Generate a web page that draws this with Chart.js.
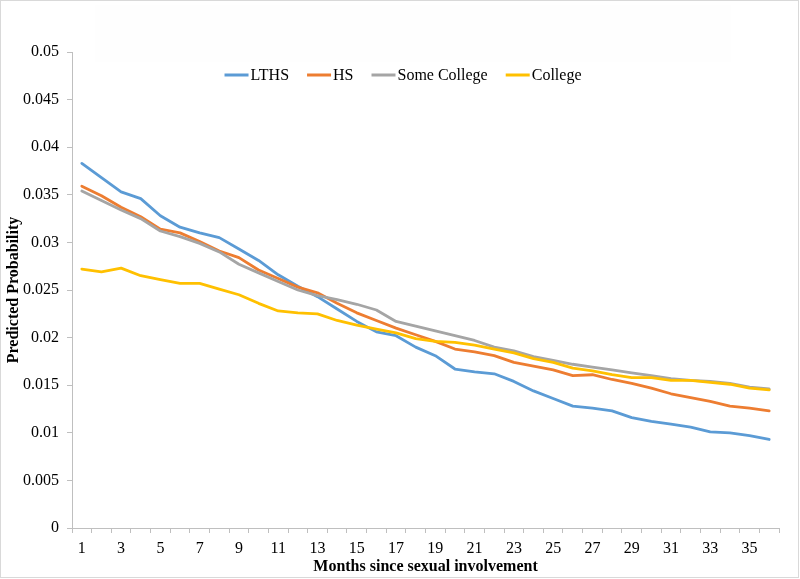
<!DOCTYPE html>
<html>
<head>
<meta charset="utf-8">
<script src="https://cdn.jsdelivr.net/npm/chart.js@4/dist/chart.umd.min.js"></script>
<style>
  html, body { margin: 0; padding: 0; background: #fff; }
  #wrap { width: 800px; height: 579px; }
</style>
</head>
<body>
<div id="wrap"><canvas id="chart" width="800" height="579"></canvas></div>
<script>
const months = ['1','2','3','4','5','6','7','8','9','10','11','12','13','14','15','16','17','18',
  '19','20','21','22','23','24','25','26','27','28','29','30','31','32','33','34','35','36'];

const lths = [0.0383, 0.0368, 0.0353, 0.0346, 0.0328, 0.0316, 0.0310, 0.0305, 0.0293, 0.0281,
  0.0266, 0.0254, 0.0243, 0.0230, 0.0217, 0.0206, 0.0202, 0.0190, 0.0181, 0.0167,
  0.0164, 0.0162, 0.0154, 0.0144, 0.0136, 0.0128, 0.0126, 0.0123, 0.0116, 0.0112,
  0.0109, 0.0106, 0.0101, 0.0100, 0.0097, 0.0093];
const hs = [0.0359, 0.0349, 0.0337, 0.0327, 0.0314, 0.0310, 0.0301, 0.0291, 0.0284, 0.0271,
  0.0262, 0.0253, 0.0247, 0.0236, 0.0226, 0.0218, 0.0210, 0.0203, 0.0196, 0.0188,
  0.0185, 0.0181, 0.0174, 0.0170, 0.0166, 0.0160, 0.0161, 0.0156, 0.0152, 0.0147,
  0.0141, 0.0137, 0.0133, 0.0128, 0.0126, 0.0123];
const someCollege = [0.0354, 0.0344, 0.0334, 0.0325, 0.0312, 0.0306, 0.0299, 0.0290, 0.0277, 0.0268,
  0.0259, 0.0250, 0.0244, 0.0240, 0.0235, 0.0229, 0.0217, 0.0212, 0.0207, 0.0202,
  0.0197, 0.0190, 0.0186, 0.0180, 0.0176, 0.0172, 0.0169, 0.0166, 0.0163, 0.0160,
  0.0157, 0.0155, 0.0154, 0.0152, 0.0148, 0.0146];
const college = [0.0272, 0.0269, 0.0273, 0.0265, 0.0261, 0.0257, 0.0257, 0.0251, 0.0245, 0.0236,
  0.0228, 0.0226, 0.0225, 0.0218, 0.0213, 0.0209, 0.0205, 0.0199, 0.0196, 0.0195,
  0.0192, 0.0188, 0.0184, 0.0178, 0.0174, 0.0168, 0.0165, 0.0161, 0.0158, 0.0158,
  0.0155, 0.0155, 0.0153, 0.0151, 0.0147, 0.0145];

const seriesNames = ['LTHS', 'HS', 'Some College', 'College'];
const seriesColors = ['#5B9BD5', '#ED7D31', '#A5A5A5', '#FFC000'];

const serif = '"Liberation Serif", "Times New Roman", serif';
const axisColor = '#BFBFBF';

// white background, faint legend backdrop, legend in the plot and outer frame
const decor = {
  id: 'decor',
  beforeDraw(chart) {
    const c = chart.ctx;
    c.save();
    c.fillStyle = '#fff';
    c.fillRect(0, 0, chart.width, chart.height);
    c.fillStyle = '#FEFEFE';
    c.fillRect(95, 5, 636, 57);
    c.restore();
  },
  afterDraw(chart) {
    const c = chart.ctx;
    c.save();
    c.font = '16px ' + serif;
    const lineW = 24, gap = 2, spacing = 18;
    const items = chart.data.datasets.map(ds => ({ label: ds.label, color: ds.borderColor, w: c.measureText(ds.label).width }));
    let total = 0;
    items.forEach((it, i) => { total += lineW + gap + it.w + (i < items.length - 1 ? spacing : 0); });
    let x = 403 - total / 2;
    const y = 75;
    c.textBaseline = 'middle';
    items.forEach(it => {
      c.strokeStyle = it.color;
      c.lineWidth = 3;
      c.beginPath();
      c.moveTo(x, y);
      c.lineTo(x + lineW, y);
      c.stroke();
      x += lineW + gap;
      c.fillStyle = '#000';
      c.fillText(it.label, x, y + 1);
      x += it.w + spacing;
    });
    c.strokeStyle = '#D9D9D9';
    c.lineWidth = 1;
    c.strokeRect(0.5, 0.5, chart.width - 2, chart.height - 2);
    c.restore();
  }
};

new Chart(document.getElementById('chart'), {
  type: 'line',
  data: {
    labels: months,
    datasets: [
      { label: seriesNames[0], data: lths, borderColor: seriesColors[0], backgroundColor: seriesColors[0], order: 4 },
      { label: seriesNames[1], data: hs, borderColor: seriesColors[1], backgroundColor: seriesColors[1], order: 3 },
      { label: seriesNames[2], data: someCollege, borderColor: seriesColors[2], backgroundColor: seriesColors[2], order: 2 },
      { label: seriesNames[3], data: college, borderColor: seriesColors[3], backgroundColor: seriesColors[3], order: 1 }
    ]
  },
  options: {
    responsive: false,
    animation: false,
    elements: {
      line: { borderWidth: 2.8, tension: 0, borderCapStyle: 'round', borderJoinStyle: 'round' },
      point: { radius: 0, hoverRadius: 0 }
    },
    layout: { padding: { top: 52, right: 21, bottom: 0, left: 0 } },
    plugins: {
      legend: { display: false },
      tooltip: { enabled: false }
    },
    scales: {
      x: {
        type: 'category',
        offset: true,
        grid: { offset: true, drawOnChartArea: false, tickLength: 5, color: axisColor },
        border: { color: axisColor },
        ticks: {
          autoSkip: false,
          maxRotation: 0,
          padding: 6,
          color: '#000',
          font: { family: serif, size: 16 },
          callback: function(val, idx) { return idx % 2 === 0 ? this.getLabelForValue(val) : ''; }
        },
        title: {
          display: true,
          text: 'Months since sexual involvement',
          color: '#000',
          font: { family: serif, size: 16, weight: 'bold' },
          padding: { top: 2, bottom: 3 }
        },
        afterFit(scale) { scale.height = 579 - 528; }
      },
      y: {
        min: 0,
        max: 0.05,
        grid: { drawOnChartArea: false, tickLength: 5, color: axisColor },
        border: { color: axisColor },
        ticks: {
          stepSize: 0.005,
          padding: 8,
          color: '#000',
          font: { family: serif, size: 16 },
          callback: v => String(+v.toFixed(3))
        },
        title: {
          display: true,
          text: 'Predicted Probability',
          color: '#000',
          font: { family: serif, size: 16, weight: 'bold' },
          padding: { top: 4, bottom: 4 }
        },
        afterFit(scale) { scale.width = 72; }
      }
    }
  },
  plugins: [decor]
});
</script>
</body>
</html>
